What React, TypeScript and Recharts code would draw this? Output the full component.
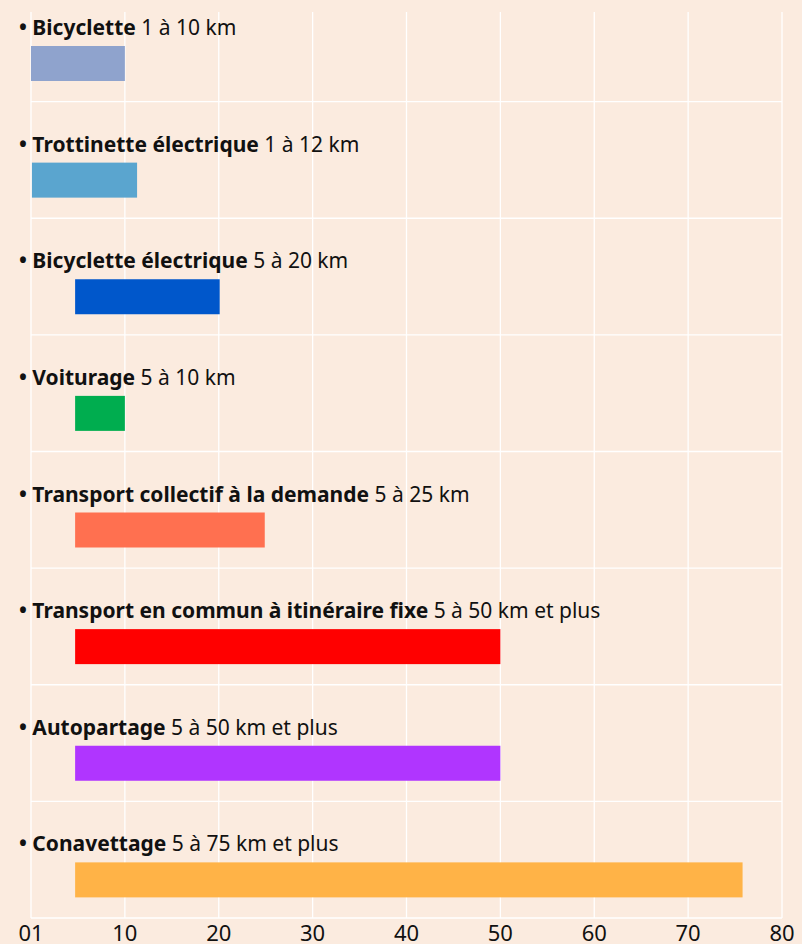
import React from "react";
import {
  BarChart,
  Bar,
  XAxis,
  YAxis,
  CartesianGrid,
  ReferenceLine,
  LabelList,
  Cell,
} from "recharts";

const categories = [
  "Bicyclette",
  "Trottinette électrique",
  "Bicyclette électrique",
  "Voiturage",
  "Transport collectif à la demande",
  "Transport en commun à itinéraire fixe",
  "Autopartage",
  "Conavettage",
];
const rangeLabels = [
  "1 à 10 km",
  "1 à 12 km",
  "5 à 20 km",
  "5 à 10 km",
  "5 à 25 km",
  "5 à 50 km et plus",
  "5 à 50 km et plus",
  "5 à 75 km et plus",
];
const starts = [0, 0.1, 4.7, 4.7, 4.7, 4.7, 4.7, 4.7];
const ends = [10, 11.3, 20.1, 10, 24.9, 50, 50, 75.8];
const colors = [
  "#8fa3cd",
  "#5aa5cf",
  "#0057cb",
  "#00ad4f",
  "#ff7050",
  "#ff0000",
  "#b035ff",
  "#ffb347",
];
const xTicks = [0, 10, 20, 30, 40, 50, 60, 70, 80];
const xTickLabels = ["01", "10", "20", "30", "40", "50", "60", "70", "80"];

const data = categories.map((name, i) => ({
  name,
  range: [starts[i], ends[i]],
  note: rangeLabels[i],
}));

const LEFT = 31;
const BAR_SHIFT = 20;
const FONT = "'Noto Sans', 'Open Sans', sans-serif";

const ShiftedBar = (props: any) => {
  const { x, y, width, height, fill } = props;
  return <rect x={x} y={y + BAR_SHIFT} width={width} height={height} fill={fill} />;
};

const RowLabel = (props: any) => {
  const { y, index } = props;
  return (
    <text x={LEFT - 12} y={y + 9} fontSize={21} fontFamily={FONT} fill="#111">
      <tspan fontWeight={700}>{"• " + categories[index]}</tspan>
      <tspan fontWeight={400}>{" " + rangeLabels[index]}</tspan>
    </text>
  );
};

export default function App() {
  return (
    <div style={{ width: 802, height: 944, background: "#fbebdf" }}>
      <style>{`body{margin:0}`}</style>
      <BarChart
        width={802}
        height={944}
        data={data}
        layout="vertical"
        margin={{ top: 12, right: 20, left: LEFT, bottom: 0 }}
      >
        <CartesianGrid horizontal={false} stroke="#ffffff" strokeWidth={1.3} />
        <XAxis
          type="number"
          domain={[0, 80]}
          ticks={xTicks}
          tickFormatter={(v: number) => xTickLabels[xTicks.indexOf(v)]}
          axisLine={false}
          tickLine={false}
          height={26}
          tickMargin={1}
          interval={0}
          tick={{ fill: "#111", fontSize: 22, fontFamily: FONT }}
        />
        <YAxis type="category" dataKey="name" hide padding={{ top: -27, bottom: 0 }} />
        {categories.map((c) => (
          <ReferenceLine key={c} y={c} position="end" stroke="#ffffff" strokeWidth={1.3} />
        ))}
        <Bar dataKey="range" barSize={35} shape={ShiftedBar} isAnimationActive={false}>
          {data.map((d, i) => (
            <Cell key={d.name} fill={colors[i]} />
          ))}
          <LabelList dataKey="note" content={RowLabel} />
        </Bar>
      </BarChart>
    </div>
  );
}
